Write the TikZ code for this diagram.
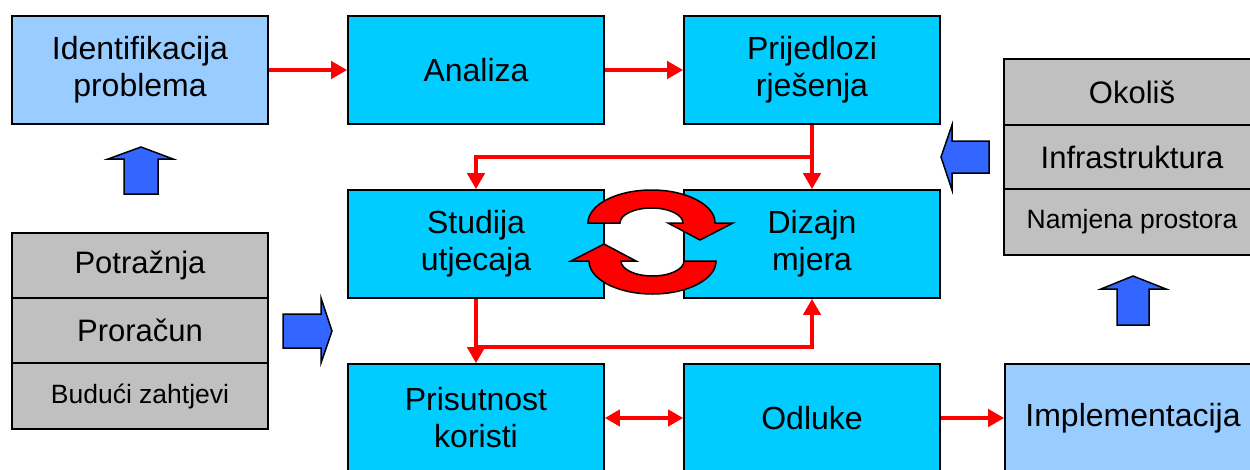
\documentclass[tikz,border=0pt]{standalone}
\usepackage{fontspec}
\setmainfont{Liberation Sans}
\usetikzlibrary{arrows.meta}
\definecolor{cyanbox}{HTML}{00CCFF}
\definecolor{lightbox}{HTML}{99CCFF}
\definecolor{graybox}{HTML}{C0C0C0}
\definecolor{bluearr}{HTML}{3366FF}
\definecolor{redarr}{HTML}{FF0000}
\tikzset{
  box/.style={draw=black, line width=1.6pt, minimum width=256pt, minimum height=108pt,
    align=center, inner sep=0pt, font=\fontsize{32}{37}\selectfont},
  cbox/.style={box, fill=cyanbox},
  lbox/.style={box, fill=lightbox},
  cell/.style={draw=black, line width=1.6pt, fill=graybox, minimum width=256pt,
    inner sep=0pt, align=center, font=\fontsize{31}{35}\selectfont},
  smallcell/.style={cell, font=\fontsize{26.5}{30}\selectfont},
  ra/.style={draw=redarr, line width=4.5pt, -{Triangle[length=16pt,width=17pt]}},
  rab/.style={draw=redarr, line width=4.5pt, {Triangle[length=15pt,width=16pt]}-{Triangle[length=15pt,width=16pt]}},
  barr/.style={fill=bluearr, draw=black, line width=1.5pt, line join=miter},
  circ/.style={fill=redarr, draw=black, line width=1.5pt, line join=miter},
}
\begin{document}
\begin{tikzpicture}[x=1pt, y=-1pt]
\clip (0,0) rectangle (1250,469);
\fill[white] (0,0) rectangle (1250,469);

% top row
\node[lbox] (ident) at (140,70) {Identifikacija\\problema};
\node[cbox] (anal) at (476,70) {Analiza};
\node[cbox] (prij) at (812,70) {Prijedlozi\\rješenja};
% middle row
\node[cbox] (stud) at (476,244) {Studija\\utjecaja};
\node[cbox] (diz) at (812,244) {Dizajn\\mjera};
% bottom row
\node[cbox] (pris) at (476,418) {Prisutnost\\koristi};
\node[cbox] (odl) at (812,418) {Odluke};
\node[lbox] (impl) at (1133,418) {Implementacija};

% left stack
\node[cell, minimum height=65pt] (potr) at (140,265.5) {Potražnja};
\node[cell, minimum height=65pt] (pror) at (140,330.5) {Proračun};
\node[smallcell, minimum height=66pt] (buduci) at (140,396) {Budući zahtjevi};
% right stack
\node[cell, minimum height=66pt] (okol) at (1132,92) {Okoliš};
\node[cell, minimum height=64pt] (infra) at (1132,157) {Infrastruktura};
\node[smallcell, minimum height=66pt] (namj) at (1132,222) {Namjena prostora};

% red connectors
\draw[ra] (ident) -- (anal);
\draw[ra] (anal) -- (prij);
\coordinate (j1) at (812,157);
\coordinate (j2) at (476,347);
\draw[ra] (prij.south) -- (diz.north);
\draw[ra] (j1) -| (stud.north);
\draw[ra] (stud.south) -- (pris.north);
\draw[ra] (j2) -| (diz.south);
\draw[rab] (pris) -- (odl);
\draw[ra] (odl) -- (impl);

% circular arrows
\filldraw[circ] (588,223) arc[start angle=180, end angle=360, x radius=63.5, y radius=33]
  -- (733,223) -- (700,240) -- (668,223) -- (683,223)
  arc[start angle=0, end angle=-180, x radius=31.5, y radius=15] -- cycle;
\filldraw[circ, rotate around={180:(652,242)}] (588,223) arc[start angle=180, end angle=360, x radius=63.5, y radius=33]
  -- (733,223) -- (700,240) -- (668,223) -- (683,223)
  arc[start angle=0, end angle=-180, x radius=31.5, y radius=15] -- cycle;

% blue block arrows
\filldraw[barr] (124,194) -- (124,159) -- (108,159) -- (141,147) -- (173,159) -- (158,159) -- (158,194) -- cycle;
\filldraw[barr] (283,314) -- (321,314) -- (321,298) -- (332,331) -- (321,363) -- (321,348) -- (283,348) -- cycle;
\filldraw[barr] (989,141) -- (952,141) -- (952,125) -- (941,157) -- (952,190) -- (952,173) -- (989,173) -- cycle;
\filldraw[barr] (1117,325) -- (1117,289) -- (1101,289) -- (1133,276) -- (1166,289) -- (1149,289) -- (1149,325) -- cycle;
\end{tikzpicture}
\end{document}
